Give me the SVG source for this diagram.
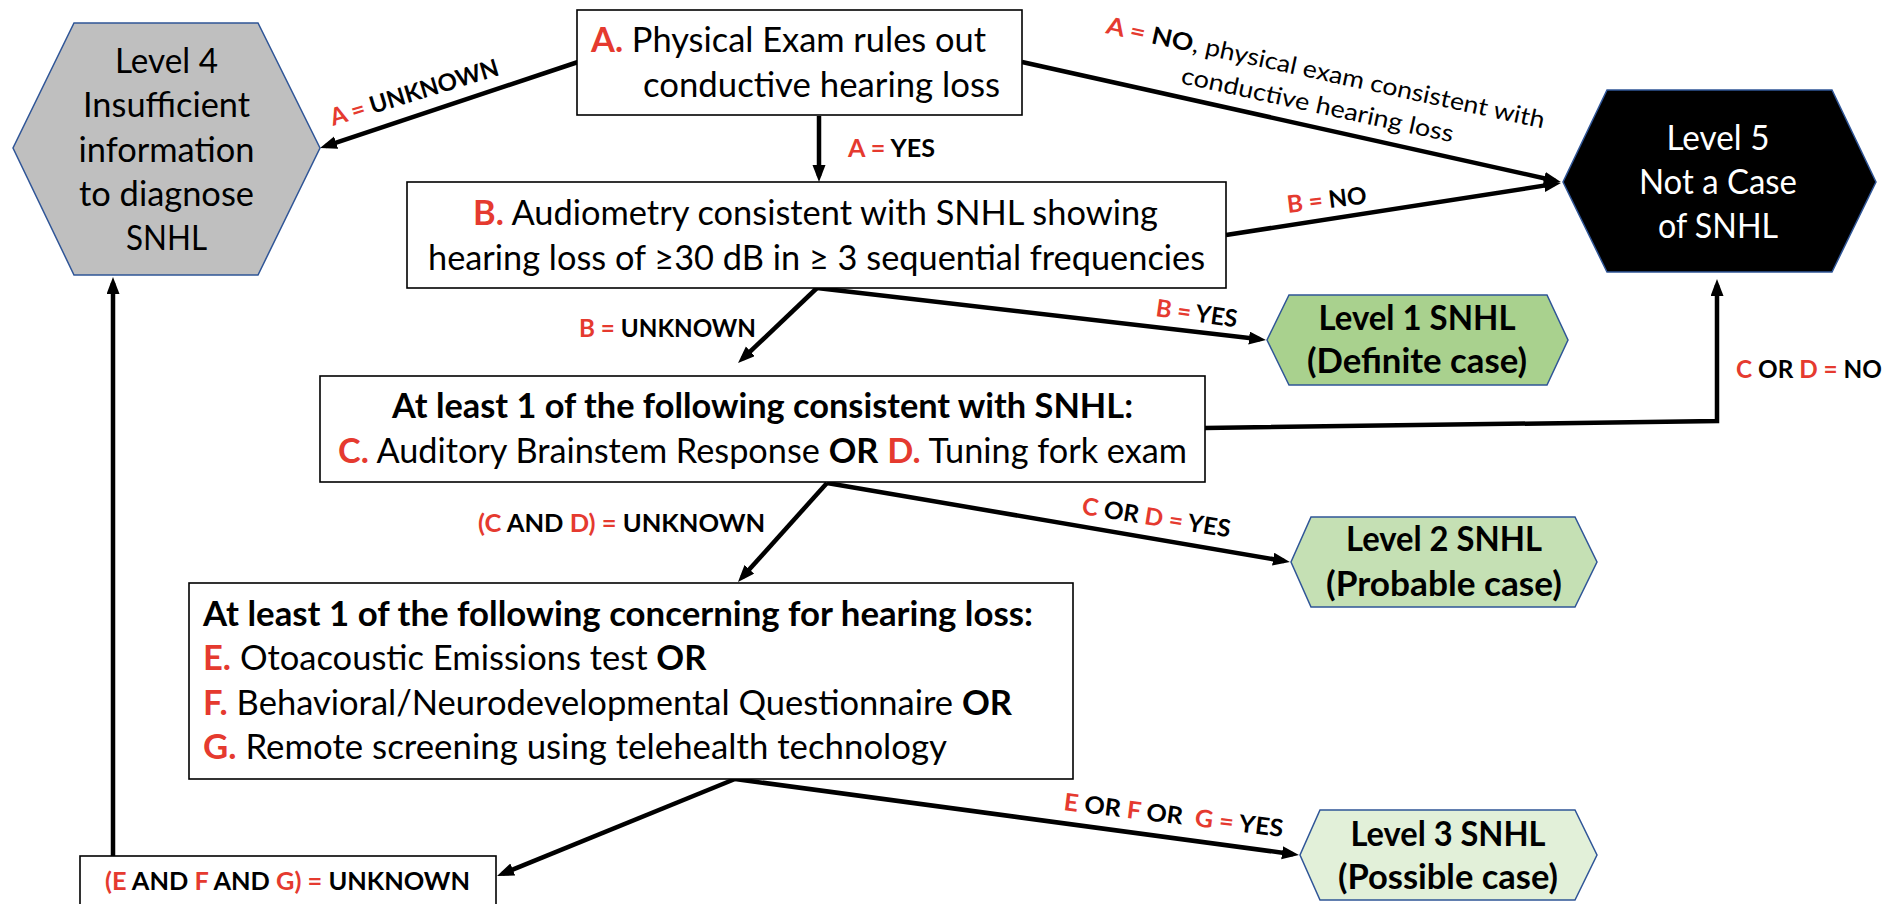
<svg xmlns="http://www.w3.org/2000/svg" width="1904" height="904" viewBox="0 0 1904 904">
<style>
text{font-family:Lato,"Open Sans","Liberation Sans",sans-serif;fill:#000}
.n{font-size:34.5px}
.nb{font-size:34.5px;font-weight:700}
.lb{font-size:24px;font-weight:700}
.lr{font-size:24px}
.r{fill:#E53A2F;font-weight:700}
.b{font-weight:700}
.w{fill:#fff}
.box{fill:#fff;stroke:#000;stroke-width:1.6}
.hex{stroke:#2F5597;stroke-width:1.5}
.c{fill:none;stroke:#000;stroke-width:4.5;marker-end:url(#ah)}
</style>
<defs>
<marker id="ah" markerUnits="userSpaceOnUse" markerWidth="18" markerHeight="14" refX="11" refY="6.5" orient="auto">
<path d="M0,0 L17,6.5 L0,13 z" fill="#000"/>
</marker>
</defs>
<rect width="1904" height="904" fill="#fff"/>

<g id="connectors">
<line class="c" x1="578" y1="62" x2="325.7" y2="146.1"/>
<line class="c" x1="819" y1="116" x2="819" y2="176"/>
<line class="c" x1="1022" y1="62" x2="1555" y2="180.7"/>
<line class="c" x1="1226" y1="235" x2="1555" y2="183.9"/>
<line class="c" x1="817" y1="288" x2="1260" y2="339.3"/>
<line class="c" x1="817" y1="288" x2="742.4" y2="358.9"/>
<polyline class="c" points="1205,428 1717,421 1717,285"/>
<line class="c" x1="827" y1="483" x2="1284" y2="561"/>
<line class="c" x1="827" y1="483" x2="742" y2="577.5"/>
<line class="c" x1="735" y1="779" x2="1293" y2="854.2"/>
<line class="c" x1="735" y1="779" x2="502.6" y2="873.7"/>
<line class="c" x1="113" y1="856" x2="113" y2="283"/>
</g>

<g id="labels">
<text class="lb" transform="translate(333,126) rotate(-17)" textLength="175" lengthAdjust="spacingAndGlyphs"><tspan class="r">A =</tspan> UNKNOWN</text>
<text class="lb" x="848" y="157" textLength="87" lengthAdjust="spacingAndGlyphs"><tspan class="r">A =</tspan> YES</text>
<g transform="translate(1105,33) rotate(12.3)">
<text class="lr" x="0" y="0" textLength="448" lengthAdjust="spacingAndGlyphs"><tspan class="r">A =</tspan> <tspan class="b">NO</tspan>, physical exam consistent with</text>
<text class="lr" x="84" y="33" textLength="278" lengthAdjust="spacingAndGlyphs">conductive hearing loss</text>
</g>
<text class="lb" transform="translate(1288,213) rotate(-7)" textLength="80" lengthAdjust="spacingAndGlyphs"><tspan class="r">B =</tspan> NO</text>
<text class="lb" x="579" y="337" textLength="177" lengthAdjust="spacingAndGlyphs"><tspan class="r">B =</tspan> UNKNOWN</text>
<text class="lb" transform="translate(1155,316) rotate(8)" textLength="82" lengthAdjust="spacingAndGlyphs"><tspan class="r">B =</tspan> YES</text>
<text class="lb" x="1736" y="378" textLength="146" lengthAdjust="spacingAndGlyphs"><tspan class="r">C</tspan> OR <tspan class="r">D =</tspan> NO</text>
<text class="lb" x="478" y="532" style="font-size:25.5px"><tspan class="r">(C</tspan> AND <tspan class="r">D) =</tspan> UNKNOWN</text>
<text class="lb" transform="translate(1081,514) rotate(9)" textLength="150" lengthAdjust="spacingAndGlyphs"><tspan class="r">C</tspan> OR <tspan class="r">D =</tspan> YES</text>
<text class="lb" transform="translate(1063,810) rotate(7)" textLength="221" lengthAdjust="spacingAndGlyphs" xml:space="preserve"><tspan class="r">E</tspan> OR <tspan class="r">F</tspan> OR  <tspan class="r">G =</tspan> YES</text>
</g>

<g id="nodeA">
<rect class="box" x="577" y="10" width="445" height="105"/>
<text class="n" x="591" y="52" textLength="395" lengthAdjust="spacingAndGlyphs"><tspan class="r">A.</tspan> Physical Exam rules out</text>
<text class="n" x="643" y="97" textLength="357" lengthAdjust="spacingAndGlyphs">conductive hearing loss</text>
</g>

<g id="nodeB">
<rect class="box" x="407" y="182" width="819" height="106"/>
<text class="n" x="473" y="225" textLength="685" lengthAdjust="spacingAndGlyphs"><tspan class="r">B.</tspan> Audiometry consistent with SNHL showing</text>
<text class="n" x="428" y="270" textLength="777" lengthAdjust="spacingAndGlyphs">hearing loss of ≥30 dB in ≥ 3 sequential frequencies</text>
</g>

<g id="nodeCD">
<rect class="box" x="320" y="376" width="885" height="106"/>
<text class="nb" x="392" y="418" textLength="741" lengthAdjust="spacingAndGlyphs">At least 1 of the following consistent with SNHL:</text>
<text class="n" x="338" y="463" textLength="849" lengthAdjust="spacingAndGlyphs"><tspan class="r">C.</tspan> Auditory Brainstem Response <tspan class="b">OR</tspan> <tspan class="r">D.</tspan> Tuning fork exam</text>
</g>

<g id="nodeEFG">
<rect class="box" x="189" y="583" width="884" height="196"/>
<text class="nb" x="203" y="626" textLength="830" lengthAdjust="spacingAndGlyphs">At least 1 of the following concerning for hearing loss:</text>
<text class="n" x="203" y="670"><tspan class="r">E.</tspan> Otoacoustic Emissions test <tspan class="b">OR</tspan></text>
<text class="n" x="203" y="715" textLength="809" lengthAdjust="spacingAndGlyphs"><tspan class="r">F.</tspan> Behavioral/Neurodevelopmental Questionnaire <tspan class="b">OR</tspan></text>
<text class="n" x="203" y="759" textLength="744" lengthAdjust="spacingAndGlyphs"><tspan class="r">G.</tspan> Remote screening using telehealth technology</text>
</g>

<g id="nodeUnknown">
<rect class="box" x="80" y="856" width="416" height="70"/>
<text class="lb" x="105" y="890" textLength="365" lengthAdjust="spacingAndGlyphs"><tspan class="r">(E</tspan> AND <tspan class="r">F</tspan> AND <tspan class="r">G) =</tspan> UNKNOWN</text>
</g>

<g id="level4">
<polygon class="hex" fill="#BFBFBF" points="74,23 258,23 320,148 258,275 74,275 13,148"/>
<g text-anchor="middle">
<text class="n" x="166.5" y="73" textLength="103" lengthAdjust="spacingAndGlyphs">Level 4</text>
<text class="n" x="166.5" y="117" textLength="167" lengthAdjust="spacingAndGlyphs">Insufficient</text>
<text class="n" x="166.5" y="162" textLength="176" lengthAdjust="spacingAndGlyphs">information</text>
<text class="n" x="166.5" y="206" textLength="175" lengthAdjust="spacingAndGlyphs">to diagnose</text>
<text class="n" x="166.5" y="250" textLength="81" lengthAdjust="spacingAndGlyphs">SNHL</text>
</g>
</g>

<g id="level5">
<polygon class="hex" fill="#000" points="1607,90 1832,90 1876,182 1832,272 1607,272 1563,182"/>
<g text-anchor="middle">
<text class="n w" x="1718" y="150" textLength="103" lengthAdjust="spacingAndGlyphs">Level 5</text>
<text class="n w" x="1718" y="194" textLength="158" lengthAdjust="spacingAndGlyphs">Not a Case</text>
<text class="n w" x="1718" y="238" textLength="120" lengthAdjust="spacingAndGlyphs">of SNHL</text>
</g>
</g>

<g id="level1">
<polygon class="hex" fill="#A9D18E" points="1289,295 1547,295 1568,340 1547,385 1289,385 1267,340"/>
<g text-anchor="middle">
<text class="nb" x="1417" y="330" textLength="197" lengthAdjust="spacingAndGlyphs">Level 1 SNHL</text>
<text class="nb" x="1417" y="373" textLength="220" lengthAdjust="spacingAndGlyphs">(Definite case)</text>
</g>
</g>

<g id="level2">
<polygon class="hex" fill="#C5E0B4" points="1311,517 1575,517 1597,562 1575,607 1311,607 1291,562"/>
<g text-anchor="middle">
<text class="nb" x="1444" y="551" textLength="196" lengthAdjust="spacingAndGlyphs">Level 2 SNHL</text>
<text class="nb" x="1444" y="596" textLength="236" lengthAdjust="spacingAndGlyphs">(Probable case)</text>
</g>
</g>

<g id="level3">
<polygon class="hex" fill="#E2F0D9" points="1320,810 1575,810 1597,855 1575,900 1320,900 1300,855"/>
<g text-anchor="middle">
<text class="nb" x="1448" y="846" textLength="195" lengthAdjust="spacingAndGlyphs">Level 3 SNHL</text>
<text class="nb" x="1448" y="889" textLength="220" lengthAdjust="spacingAndGlyphs">(Possible case)</text>
</g>
</g>
</svg>
